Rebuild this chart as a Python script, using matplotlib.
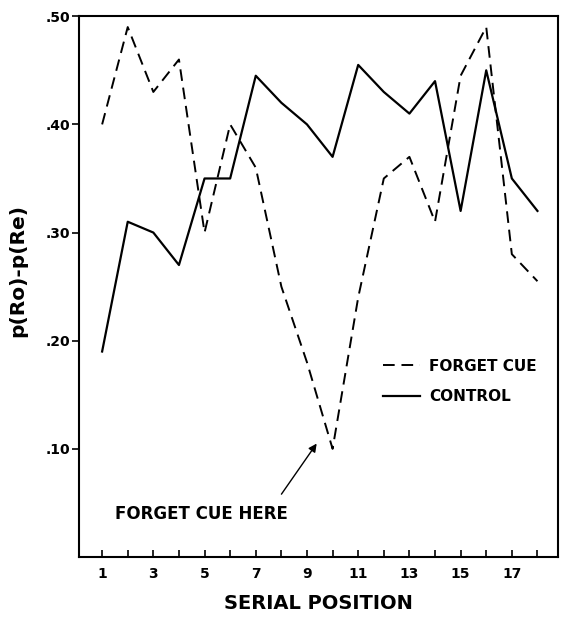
import matplotlib
matplotlib.use("Agg")
import matplotlib.pyplot as plt
import numpy as np

positions = list(range(1, 19))
forget_cue = [0.40, 0.49, 0.43, 0.46, 0.30, 0.40, 0.36, 0.25, 0.18, 0.10,
              0.24, 0.35, 0.37, 0.31, 0.445, 0.49, 0.28, 0.255]
control = [0.19, 0.31, 0.30, 0.27, 0.35, 0.35, 0.445, 0.42, 0.40, 0.37,
           0.455, 0.43, 0.41, 0.44, 0.32, 0.45, 0.35, 0.32]
x_major = [1, 3, 5, 7, 9, 11, 13, 15, 17]
x_minor = [2, 4, 6, 8, 10, 12, 14, 16, 18]
y_ticks = [0.10, 0.20, 0.30, 0.40, 0.50]
y_labels = [".10", ".20", ".30", ".40", ".50"]

plt.rcParams['font.family'] = ['DejaVu Sans']
fig = plt.figure(figsize=(5.63, 6.18), dpi=100)
ax = fig.add_axes([0.140, 0.0987, 0.851, 0.875])

ax.plot(positions, forget_cue, color='black', lw=1.4, dashes=(6, 3.5), label='FORGET CUE')
ax.plot(positions, control, color='black', lw=1.6, label='CONTROL')

ax.set_xlim(0.09, 18.8)
ax.set_ylim(0.0, 0.50)
ax.set_xticks(x_major)
ax.set_xticks(x_minor, minor=True)
ax.set_xticklabels([str(v) for v in x_major], fontsize=10, fontweight='bold')
ax.set_yticks(y_ticks)
ax.set_yticklabels(y_labels, fontsize=10, fontweight='bold')
ax.tick_params(axis='x', which='both', direction='in', length=5, width=1.2, pad=7)
ax.tick_params(axis='y', direction='out', length=5, width=1.2, pad=1)
for s in ax.spines.values():
    s.set_linewidth(1.5)

ax.set_xlabel('SERIAL POSITION', fontsize=14, fontweight='bold')
ax.xaxis.set_label_coords(0.5, -0.068)
ax.set_ylabel('p(Ro)-p(Re)', fontsize=14.5, fontweight='bold')
ax.yaxis.set_label_coords(-0.107, 0.529)

ax.annotate('', xy=(9.44, 0.107), xytext=(7.94, 0.056),
            arrowprops=dict(arrowstyle='-|>', color='black', lw=1.0, mutation_scale=12))
ax.text(1.5, 0.040, 'FORGET CUE HERE', fontsize=12, fontweight='bold', va='center', ha='left')

leg = ax.legend(loc='upper left', bbox_to_anchor=(0.607, 0.392), frameon=False,
                prop={'size': 11, 'weight': 'bold'}, handlelength=2.4, handletextpad=0.6,
                labelspacing=1.0)

fig.savefig('out.png', dpi=100)
